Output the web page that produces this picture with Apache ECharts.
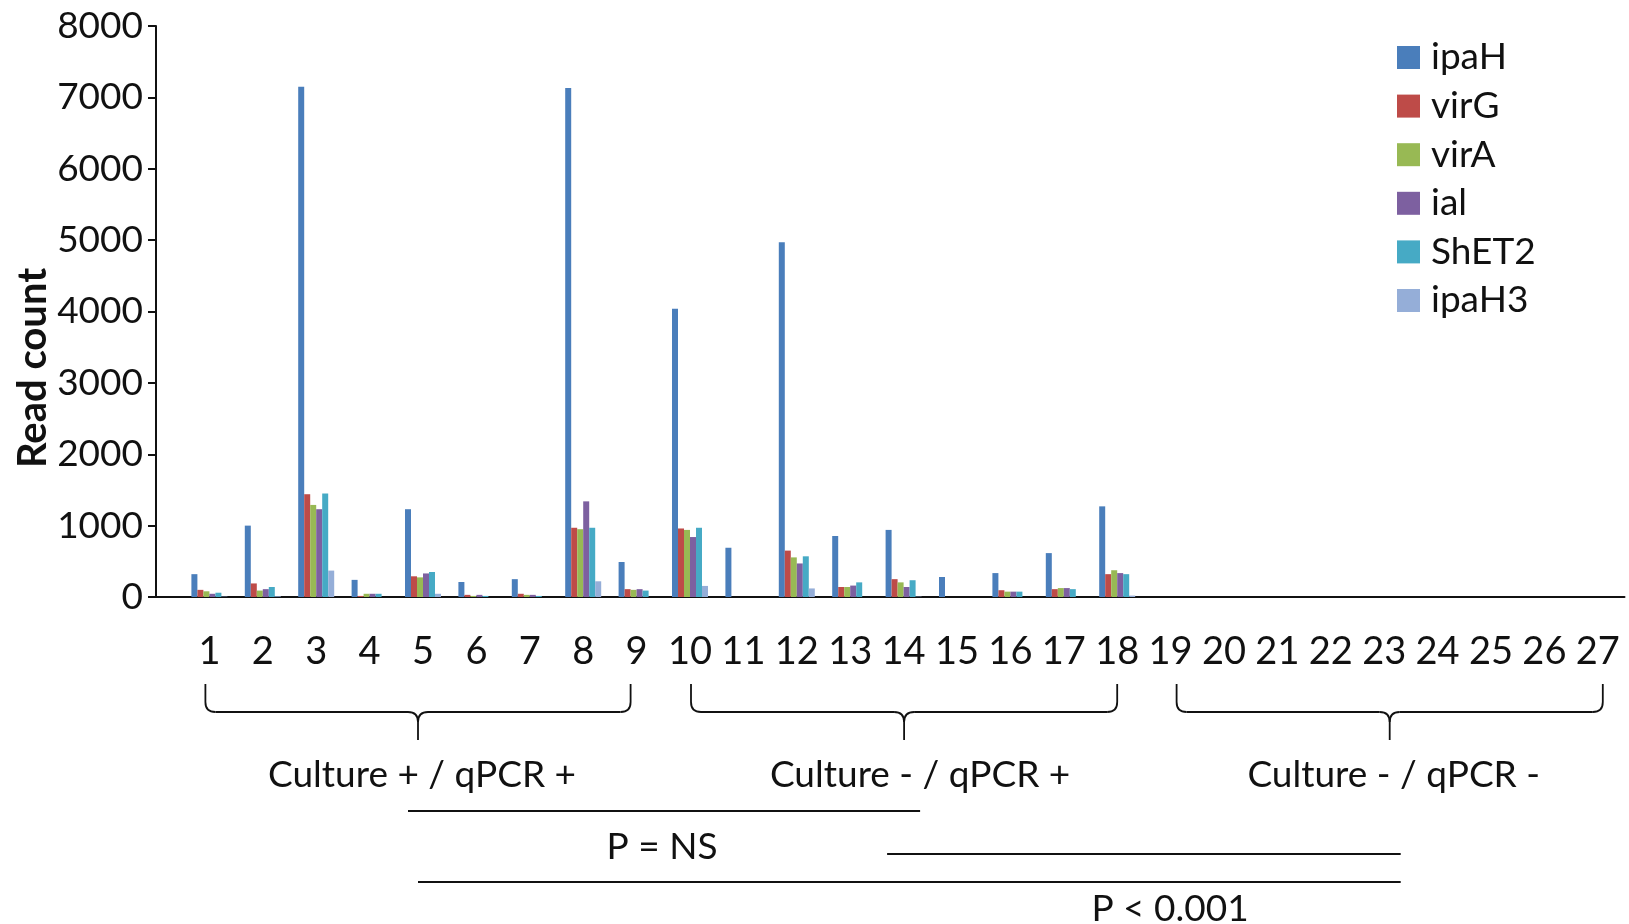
<!DOCTYPE html>
<html>
<head>
<meta charset="utf-8">
<title>Shigella virulence gene read counts</title>
<script src="https://cdn.jsdelivr.net/npm/echarts@6/dist/echarts.min.js"></script>
<style>
  html, body { margin: 0; padding: 0; background: #ffffff; }
  #chart { width: 1629px; height: 924px; }
</style>
</head>
<body>
<div id="chart"></div>
<script>
// Sample numbers along the x axis
const categories = ['1','2','3','4','5','6','7','8','9','10','11','12','13','14','15','16','17','18','19','20','21','22','23','24','25','26','27'];

// Read counts per gene target, one value per sample
const ipaH  = [320, 1000, 7150, 240, 1230, 210, 250, 7130, 490, 4040, 690, 4970, 855, 940, 280, 335, 615, 1270, 0, 0, 0, 0, 0, 0, 0, 0, 0];
const virG  = [100, 190, 1440, 15, 290, 30, 45, 970, 110, 960, 0, 650, 140, 250, 0, 95, 110, 320, 0, 0, 0, 0, 0, 0, 0, 0, 0];
const virA  = [80, 90, 1290, 45, 275, 15, 30, 950, 100, 940, 0, 555, 140, 205, 0, 75, 125, 375, 0, 0, 0, 0, 0, 0, 0, 0, 0];
const ial   = [45, 110, 1230, 45, 330, 30, 30, 1340, 110, 840, 0, 470, 160, 140, 0, 75, 125, 335, 0, 0, 0, 0, 0, 0, 0, 0, 0];
const ShET2 = [60, 140, 1450, 45, 350, 15, 15, 970, 90, 970, 0, 570, 205, 235, 0, 75, 110, 320, 0, 0, 0, 0, 0, 0, 0, 0, 0];
const ipaH3 = [5, 10, 370, 0, 45, 0, 0, 220, 0, 155, 0, 120, 0, 5, 0, 0, 0, 20, 0, 0, 0, 0, 0, 0, 0, 0, 0];

// Y axis ticks
const yTicks = [0, 1000, 2000, 3000, 4000, 5000, 6000, 7000, 8000];

// Sample groups (first and last sample number) with their labels
const groupLabels = ['Culture + / qPCR +', 'Culture - / qPCR +', 'Culture - / qPCR -'];
const groupFirst = [1, 10, 19];
const groupLast = [9, 18, 27];

const FONT = 'Lato, "Open Sans", sans-serif';
const INK = '#111111';

const seriesDefs = [
  { name: 'ipaH',  values: ipaH,  color: '#4A7EBB' },
  { name: 'virG',  values: virG,  color: '#BE4B48' },
  { name: 'virA',  values: virA,  color: '#98B954' },
  { name: 'ial',   values: ial,   color: '#7D60A0' },
  { name: 'ShET2', values: ShET2, color: '#46AAC5' },
  { name: 'ipaH3', values: ipaH3, color: '#95AED8' }
];

const chart = echarts.init(document.getElementById('chart'), null, { renderer: 'canvas' });

const option = {
  backgroundColor: '#ffffff',
  animation: false,
  textStyle: { fontFamily: FONT, color: INK },
  grid: { left: 156, right: 4.5, top: 26, bottom: 327, containLabel: false },
  legend: {
    orient: 'vertical',
    left: 1397,
    top: 39,
    padding: 0,
    icon: 'rect',
    itemWidth: 23,
    itemHeight: 23,
    itemGap: 11.6,
    textStyle: { fontFamily: FONT, fontSize: 37, lineHeight: 37, color: INK, padding: [0, 0, 0, 6] },
    data: seriesDefs.map(s => s.name)
  },
  xAxis: {
    type: 'value',
    min: 0,
    max: categories.length + 0.5,
    interval: 1,
    splitLine: { show: false },
    axisTick: { show: false },
    axisLine: { show: true, onZero: false, lineStyle: { color: INK, width: 2 } },
    axisLabel: {
      showMaxLabel: false,
      showMinLabel: false,
      margin: 36,
      fontFamily: FONT,
      fontSize: 38,
      lineHeight: 38,
      color: INK,
      formatter: v => (Number.isInteger(v) && v >= 1 && v <= categories.length) ? categories[v - 1] : ''
    }
  },
  yAxis: {
    type: 'value',
    min: yTicks[0],
    max: yTicks[yTicks.length - 1],
    interval: 1000,
    splitLine: { show: false },
    axisLine: { show: true, lineStyle: { color: INK, width: 2 } },
    axisTick: { show: true, inside: false, length: 8, lineStyle: { color: INK, width: 2 } },
    axisLabel: { margin: 13, fontFamily: FONT, fontSize: 37, color: INK, formatter: v => String(v) }
  },
  series: seriesDefs.map(s => ({
    name: s.name,
    type: 'bar',
    barWidth: 6,
    barGap: '0%',
    itemStyle: { color: s.color },
    data: s.values.map((v, i) => [Number(categories[i]), v])
  }))
};

chart.setOption(option);

// Annotations below the axis: group braces, group names and significance bars
const cx = k => chart.convertToPixel({ xAxisIndex: 0 }, k);
const BRACE_TOP = 684, BRACE_MID = 712, BRACE_TIP = 740, R = 10;
const braceStyle = { stroke: INK, lineWidth: 1.8, fill: null };

function seg(x1, y1, x2, y2) {
  return { type: 'line', shape: { x1, y1, x2, y2 }, style: braceStyle };
}
function curve(x1, y1, cpx1, cpy1, x2, y2) {
  return { type: 'bezierCurve', shape: { x1, y1, cpx1, cpy1, x2, y2 }, style: braceStyle };
}
function brace(x1, x2) {
  const m = (x1 + x2) / 2;
  return [
    seg(x1, BRACE_TOP, x1, BRACE_MID - R),
    curve(x1, BRACE_MID - R, x1, BRACE_MID, x1 + R, BRACE_MID),
    seg(x1 + R, BRACE_MID, m - R, BRACE_MID),
    curve(m - R, BRACE_MID, m, BRACE_MID, m, BRACE_MID + R),
    seg(m, BRACE_MID + R, m, BRACE_TIP),
    curve(m, BRACE_MID + R, m, BRACE_MID, m + R, BRACE_MID),
    seg(m + R, BRACE_MID, x2 - R, BRACE_MID),
    curve(x2 - R, BRACE_MID, x2, BRACE_MID, x2, BRACE_MID - R),
    seg(x2, BRACE_MID - R, x2, BRACE_TOP)
  ];
}

const braceOffsets = [[-4, -6], [1, 0], [6, 5]];
const labelShift = [4, 16, 4];
const graphics = [];

graphics.push({
  type: 'text',
  x: 33, y: 368,
  rotation: Math.PI / 2,
  style: {
    text: 'Read count',
    fontFamily: FONT, fontSize: 40, fontWeight: 'bold',
    fill: INK, textAlign: 'center', textVerticalAlign: 'middle'
  }
});

const mids = [];
groupFirst.forEach((a, g) => {
  const x1 = cx(a) + braceOffsets[g][0];
  const x2 = cx(groupLast[g]) + braceOffsets[g][1];
  const m = (x1 + x2) / 2;
  mids.push(m);
  brace(x1, x2).forEach(el => graphics.push(el));
  graphics.push({
    type: 'text',
    x: m + labelShift[g], y: 775,
    style: {
      text: groupLabels[g],
      fontFamily: FONT, fontSize: 37, fill: INK,
      textAlign: 'center', textVerticalAlign: 'middle'
    }
  });
});

// Pairwise comparison bars
const compLines = [
  { x1: mids[0] - 10, x2: mids[1] + 16, y: 811 },
  { x1: mids[1] - 17, x2: mids[2] + 11, y: 854 },
  { x1: mids[0],      x2: mids[2] + 11, y: 882 }
];
compLines.forEach(l => {
  graphics.push({
    type: 'line',
    shape: { x1: l.x1, y1: l.y, x2: l.x2, y2: l.y },
    style: { stroke: INK, lineWidth: 2 }
  });
});
graphics.push({
  type: 'text', x: 662, y: 847,
  style: { text: 'P = NS', fontFamily: FONT, fontSize: 37, fill: INK, textAlign: 'center', textVerticalAlign: 'middle' }
});
graphics.push({
  type: 'text', x: 1170, y: 909,
  style: { text: 'P < 0.001', fontFamily: FONT, fontSize: 37, fill: INK, textAlign: 'center', textVerticalAlign: 'middle' }
});

chart.setOption({ graphic: graphics });
</script>
</body>
</html>
